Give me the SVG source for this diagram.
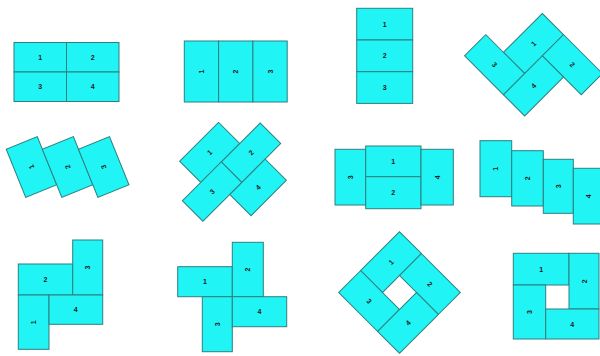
<svg xmlns="http://www.w3.org/2000/svg" width="600" height="356" viewBox="0 0 600 356">
<style>
  .n rect, .n polygon { fill: #20f4f4; stroke: #2f7f7f; stroke-width: 1; }
  .n text { font-family: "Liberation Sans", Arial, sans-serif; font-size: 7px; font-weight: bold; fill: #1a1a1a; text-anchor: middle; dominant-baseline: central; }
</style>
<rect width="600" height="356" fill="#ffffff"/>

<g id="fig1">
  <g id="f1n1" class="n"><rect x="14" y="42.5" width="52.5" height="29.5"/><text x="40.2" y="57.2">1</text></g>
  <g id="f1n2" class="n"><rect x="66.5" y="42.5" width="52.5" height="29.5"/><text x="92.7" y="57.2">2</text></g>
  <g id="f1n3" class="n"><rect x="14" y="72" width="52.5" height="29.5"/><text x="40.2" y="86.7">3</text></g>
  <g id="f1n4" class="n"><rect x="66.5" y="72" width="52.5" height="29.5"/><text x="92.7" y="86.7">4</text></g>
</g>

<g id="fig2">
  <g id="f2n1" class="n"><rect x="184.3" y="41" width="34.3" height="61"/><text transform="translate(201.5,71.5) rotate(-90)">1</text></g>
  <g id="f2n2" class="n"><rect x="218.6" y="41" width="34.3" height="61"/><text transform="translate(235.8,71.5) rotate(-90)">2</text></g>
  <g id="f2n3" class="n"><rect x="252.9" y="41" width="34.3" height="61"/><text transform="translate(270,71.5) rotate(-90)">3</text></g>
</g>

<g id="fig3">
  <g id="f3n1" class="n"><rect x="356.7" y="8.3" width="56" height="31.7"/><text x="384.7" y="24.2">1</text></g>
  <g id="f3n2" class="n"><rect x="356.7" y="40" width="56" height="31.7"/><text x="384.7" y="55.9">2</text></g>
  <g id="f3n3" class="n"><rect x="356.7" y="71.7" width="56" height="31.7"/><text x="384.7" y="87.6">3</text></g>
</g>

<g id="fig4">
  <g id="f4n1" class="n" transform="translate(533.5,43.5) rotate(-45)"><rect x="-27.5" y="-15" width="55" height="30"/><text x="0" y="0">1</text></g>
  <g id="f4n2" class="n" transform="translate(572.4,64.7) rotate(45)"><rect x="-27.5" y="-15" width="55" height="30"/><text x="0" y="0">2</text></g>
  <g id="f4n3" class="n" transform="translate(494.6,64.7) rotate(45)"><rect x="-27.5" y="-15" width="55" height="30"/><text x="0" y="0">3</text></g>
  <g id="f4n4" class="n" transform="translate(533.5,85.9) rotate(-45)"><rect x="-27.5" y="-15" width="55" height="30"/><text x="0" y="0">4</text></g>
</g>

<g id="fig5">
  <g id="f5n1" class="n" transform="translate(31.5,167) rotate(-22)"><rect x="-16.75" y="-26" width="33.5" height="52"/><text transform="rotate(-90)">1</text></g>
  <g id="f5n2" class="n" transform="translate(67.6,167) rotate(-22)"><rect x="-16.75" y="-26" width="33.5" height="52"/><text transform="rotate(-90)">2</text></g>
  <g id="f5n3" class="n" transform="translate(103.7,167) rotate(-22)"><rect x="-16.75" y="-26" width="33.5" height="52"/><text transform="rotate(-90)">3</text></g>
</g>

<g id="fig6">
  <g id="f6n1" class="n" transform="translate(209.7,152.4) rotate(-45)"><rect x="-27.5" y="-15" width="55" height="30"/><text x="0" y="0">1</text></g>
  <g id="f6n2" class="n" transform="translate(251,152.7) rotate(-45)"><rect x="-27.5" y="-14.5" width="55" height="29"/><text x="0" y="0">2</text></g>
  <g id="f6n3" class="n" transform="translate(212.1,191.6) rotate(-45)"><rect x="-27.5" y="-14.5" width="55" height="29"/><text x="0" y="0">3</text></g>
  <g id="f6n4" class="n" transform="translate(258.1,187.4) rotate(-45)"><rect x="-25" y="-15" width="50" height="30"/><text x="0" y="0">4</text></g>
</g>

<g id="fig7">
  <g id="f7n3" class="n"><rect x="335" y="149.3" width="30.7" height="55.7"/><text transform="translate(350.3,177.2) rotate(-90)">3</text></g>
  <g id="f7n1" class="n"><rect x="365.7" y="146" width="55.3" height="30.7"/><text x="393.3" y="161.3">1</text></g>
  <g id="f7n2" class="n"><rect x="365.7" y="176.7" width="55.3" height="32"/><text x="393.3" y="192.7">2</text></g>
  <g id="f7n4" class="n"><rect x="421" y="149.3" width="32.3" height="55.7"/><text transform="translate(437.2,177.2) rotate(-90)">4</text></g>
</g>

<g id="fig8">
  <g id="f8n1" class="n"><rect x="480" y="140.7" width="31.7" height="56"/><text transform="translate(495.8,168.7) rotate(-90)">1</text></g>
  <g id="f8n2" class="n"><rect x="511.7" y="150.7" width="31.6" height="55.3"/><text transform="translate(527.5,178.3) rotate(-90)">2</text></g>
  <g id="f8n3" class="n"><rect x="543.3" y="159.3" width="30" height="54"/><text transform="translate(558.3,186.3) rotate(-90)">3</text></g>
  <g id="f8n4" class="n"><rect x="573.3" y="168.3" width="31" height="55.7"/><text transform="translate(588.8,196.2) rotate(-90)">4</text></g>
</g>

<g id="fig9">
  <g id="f9n2" class="n"><rect x="18.3" y="264" width="54.4" height="31"/><text x="45.5" y="279.5">2</text></g>
  <g id="f9n3" class="n"><rect x="72.7" y="240" width="30" height="55"/><text transform="translate(87.7,267.5) rotate(-90)">3</text></g>
  <g id="f9n1" class="n"><rect x="18.3" y="295" width="30.7" height="54.3"/><text transform="translate(33.6,322.2) rotate(-90)">1</text></g>
  <g id="f9n4" class="n"><rect x="49" y="295" width="53.7" height="29.3"/><text x="75.8" y="309.7">4</text></g>
</g>

<g id="fig10">
  <g id="f10n1" class="n"><rect x="177.7" y="266.7" width="54.6" height="30"/><text x="205" y="281.7">1</text></g>
  <g id="f10n2" class="n"><rect x="232.3" y="242.3" width="31" height="54.4"/><text transform="translate(247.8,269.5) rotate(-90)">2</text></g>
  <g id="f10n3" class="n"><rect x="202.3" y="296.7" width="30" height="55"/><text transform="translate(217.3,324.2) rotate(-90)">3</text></g>
  <g id="f10n4" class="n"><rect x="232.3" y="296.7" width="54.4" height="30"/><text x="259.5" y="311.7">4</text></g>
</g>

<g id="fig11">
  <g id="f11n1" class="n" transform="translate(391,262.1) rotate(-45)"><rect x="-27.5" y="-15.5" width="55" height="31"/><text x="0" y="0">1</text></g>
  <g id="f11n2" class="n" transform="translate(429.9,284) rotate(45)"><rect x="-27.5" y="-15.5" width="55" height="31"/><text x="0" y="0">2</text></g>
  <g id="f11n3" class="n" transform="translate(369.1,301) rotate(45)"><rect x="-27.5" y="-15.5" width="55" height="31"/><text x="0" y="0">3</text></g>
  <g id="f11n4" class="n" transform="translate(408,322.9) rotate(-45)"><rect x="-27.5" y="-15.5" width="55" height="31"/><text x="0" y="0">4</text></g>
</g>

<g id="fig12">
  <g id="f12n1" class="n"><rect x="513.3" y="253.3" width="55.7" height="31.7"/><text x="541.2" y="269.2">1</text></g>
  <g id="f12n2" class="n"><rect x="569" y="253.3" width="30" height="55.7"/><text transform="translate(584,281.2) rotate(-90)">2</text></g>
  <g id="f12n3" class="n"><rect x="513.3" y="285" width="32.4" height="54"/><text transform="translate(529.5,312) rotate(-90)">3</text></g>
  <g id="f12n4" class="n"><rect x="545.7" y="309" width="53.3" height="30"/><text x="572.3" y="324">4</text></g>
</g>
</svg>
